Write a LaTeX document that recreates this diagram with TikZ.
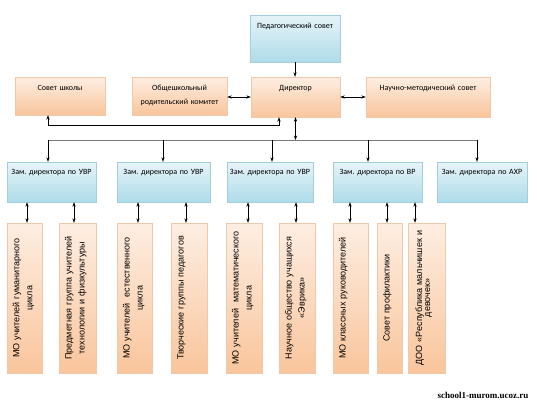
\documentclass[tikz,border=0pt]{standalone}
\usepackage{fontspec}
\setmainfont{Carlito}
\newfontfamily\rotfont{Liberation Sans}
\newfontfamily\sitefont{Liberation Serif}
\usepackage{tikz}
\usetikzlibrary{arrows.meta, shadows}
\usepackage{xcolor}
\definecolor{orlight}{HTML}{FDEEE2}
\definecolor{ordark}{HTML}{F9C59C}
\definecolor{orline}{HTML}{F0C9AA}
\definecolor{bllight}{HTML}{E6F4F8}
\definecolor{bldark}{HTML}{AEDBE8}
\definecolor{blline}{HTML}{A3CFDD}
\definecolor{busgray}{HTML}{7A7A7A}
\frenchspacing

\begin{document}
\begin{tikzpicture}[x=1pt, y=-1pt,
    box/.style={draw=#1line, top color=#1light, bottom color=#1dark,
      drop shadow={shadow xshift=1.2pt, shadow yshift=-1.2pt, opacity=0.3},
      inner xsep=2pt, inner ysep=0pt, align=center,
      font=\fontsize{8}{10}\selectfont, text height=13pt},
    mobox/.style={box=or, rotate=90, minimum width=150pt, text width=140pt,
      font=\rotfont\fontsize{9}{13}\selectfont, text height=12.5pt},
    arr/.style={-{Stealth[length=4.5pt, width=3.2pt]}, line width=0.6pt},
    darr/.style={{Stealth[length=4.5pt, width=3.2pt]}-{Stealth[length=4.5pt, width=3.2pt]}, line width=0.6pt},
    busline/.style={busgray, line width=0.8pt}]
  \useasboundingbox (0,0) rectangle (537,405);

  % top level
  \node[box=bl, text width=86pt, text depth=34pt] (ped) at (295,38.5) {Педагогический совет};
  \node[box=or, text width=85pt, text depth=27pt] (dir) at (295.5,97) {Директор};
  \node[box=or, text width=120pt, text depth=27pt] (nms) at (428,97) {Научно-методический совет};
  \node[box=or, text width=86pt, text depth=25pt] (sovet) at (60,96) {Совет школы};
  \node[box=or, text width=91pt, text depth=25pt] (rod) at (179.5,96)
    {Общешкольный\\[4pt]родительский комитет};

  % deputies
  \node[box=bl, text width=85pt, text height=12.5pt, text depth=27.5pt] (zam1) at (51.5,182) {Зам. директора по УВР};
  \node[box=bl, text width=89pt, text height=12.5pt, text depth=27.5pt] (zam2) at (163.5,182) {Зам. директора по УВР};
  \node[box=bl, text width=82pt, text height=12.5pt, text depth=27.5pt] (zam3) at (270,182) {Зам. директора по УВР};
  \node[box=bl, text width=85pt, text height=12.5pt, text depth=27.5pt] (zam4) at (377.5,182) {Зам. директора по ВР};
  \node[box=bl, text width=86pt, text height=12.5pt, text depth=27.5pt] (zam5) at (482,182) {Зам. директора по АХР};

  % groups
  \node[mobox, text depth=22.5pt] (mo1) at (24.5,298) {МО учителей гуманитарного\\цикла};
  \node[mobox, text depth=24.5pt] (mo2) at (77.5,298) {Предметная группа учителей\\технологии и физкультуры};
  \node[mobox, text depth=22.5pt] (mo3) at (134.5,298) {МО учителей \ естественного\\цикла};
  \node[mobox, text depth=23.5pt] (mo4) at (189,298) {Творческие группы педагогов};
  \node[mobox, text depth=23.5pt] (mo5) at (244,298) {МО учителей \ математического\\цикла};
  \node[mobox, text depth=23.5pt] (mo6) at (297,298) {Научное общество учащихся\\«Эврика»};
  \node[mobox, text depth=22.5pt] (mo7) at (350.5,298) {МО классных руководителей};
  \node[mobox, text depth=12.5pt] (mo8) at (389.5,298) {Совет профилактики};
  \node[mobox, text height=14pt, text depth=23pt, font=\rotfont\fontsize{9}{8}\selectfont]
    (mo9) at (426.5,298) {ДОО «Республика мальчишек и\\девочек»};

  \node[font=\sitefont\bfseries\fontsize{9}{10}\selectfont] (site) at (483,395) {school1-murom.ucoz.ru};

  % connections
  \coordinate (bus) at (48,140);
  \coordinate (busend) at (477,140);
  \draw[arr] (ped.south) -- (ped.south |- dir.north);
  \draw[darr] (dir.west -| rod.east) -- (dir.west);
  \draw[darr] (dir.east) -- (nms.west);
  \path ([xshift=-16.5pt]dir.south) coordinate (s1);
  \draw[darr] (s1) -- ++(0,8) -| ([xshift=-12pt]sovet.south);
  \draw[busline] (bus) -- (busend);
  \draw[darr] (dir.south) -- (dir.south |- bus);
  \foreach \z/\dx in {zam1/-3.5, zam2/-0.5, zam3/2, zam4/-9.5, zam5/-5} {
    \path ([xshift=\dx pt]\z.north) coordinate (d);
    \draw[arr] (d |- bus) -- (d);
  }
  \foreach \m/\z/\dx in {mo1/zam1/2.5, mo2/zam1/-3.5, mo3/zam2/3.5, mo4/zam2/-3,
      mo5/zam3/4, mo6/zam3/-1, mo7/zam4/-0.5, mo8/zam4/-2.5, mo9/zam4/-11.5} {
    \path ([xshift=\dx pt]\m.east) coordinate (t);
    \draw[darr] (t |- \z.south) -- (t);
  }
\end{tikzpicture}
\end{document}
